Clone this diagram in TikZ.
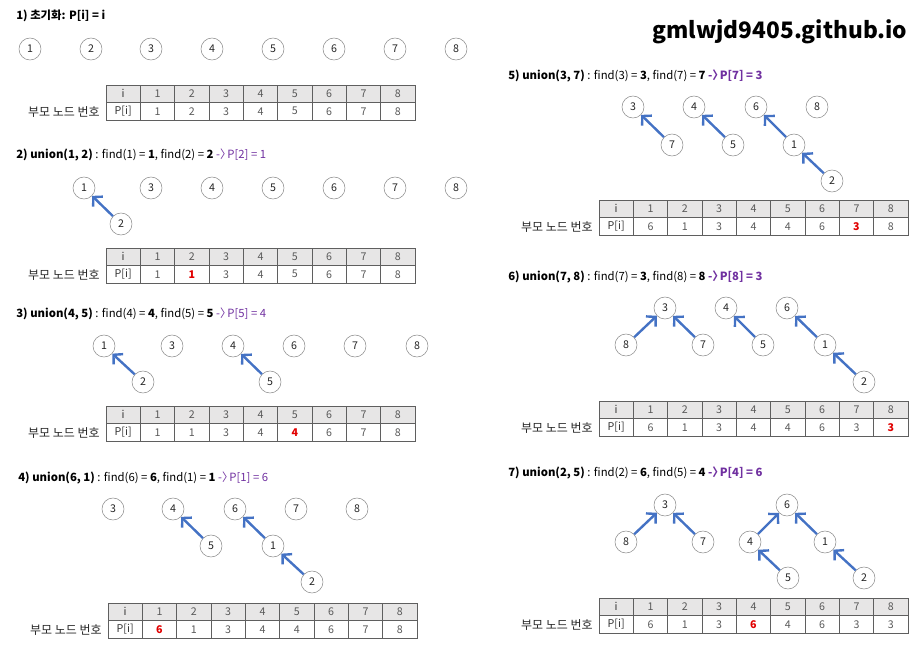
\documentclass[tikz,border=0pt]{standalone}
\usepackage{fontspec}
\setmainfont{Noto Sans CJK KR}
\usepackage{tikz}
\usetikzlibrary{arrows.meta, positioning, calc}
\definecolor{ufblue}   {RGB}{68,  114, 196}
\definecolor{ufpurple} {RGB}{112, 48,  160}
\definecolor{ufred}    {RGB}{225, 0,   0}
\definecolor{ufhead}   {RGB}{231, 230, 230}
\definecolor{ufline}   {RGB}{95,  95,  95}
\definecolor{uftext}   {RGB}{89,  89,  89}

\tikzset{
	unode/.style={circle, draw=black!45, fill=white, minimum size=16.5pt, inner sep=0pt,
		text=black!85, font=\fontsize{8}{9}\selectfont},
	parent/.style={draw=ufblue, line width=1.8pt, -{Straight Barb[length=5pt,width=10.5pt]}},
	steptitle/.style={anchor=west, inner sep=0pt, text=black, font=\fontsize{8.5}{10}\selectfont},
	tabline/.style={draw=ufline, line width=0.6pt},
	cellkey/.style={inner sep=0pt, text=black!80, font=\fontsize{8}{9}\selectfont},
	cellval/.style={inner sep=0pt, text=uftext, font=\fontsize{8}{9}\selectfont},
	cellhot/.style={inner sep=0pt, text=ufred, font=\fontsize{8}{9}\selectfont\bfseries},
	rowlabel/.style={anchor=east, inner sep=0pt, text=black!85, font=\fontsize{9}{10}\selectfont},
	wmark/.style={inner sep=0pt, text=black, font=\fontsize{17}{20}\selectfont\bfseries}
}
\newcommand{\toP}{-〉\kern-0.35em}

% #1 name, #2 left, #3 top, #4 parents, #5 changed column (0 = none)
\newcommand{\parenttable}[5]{%
	\fill[ufhead] (#2,#3) rectangle ({#2+309},{#3+17.5});
	\draw[tabline] (#2,#3) rectangle ({#2+309},{#3+35});
	\draw[tabline] (#2,{#3+17.5}) -- ({#2+309},{#3+17.5});
	\foreach \k in {1,...,8}
		\draw[tabline] ({#2+\k*34.33},#3) -- ({#2+\k*34.33},{#3+35});
	\node[cellkey] (#1hi) at ({#2+17.17},{#3+8.75}) {i};
	\node[cellkey] (#1pi) at ({#2+17.17},{#3+26.25}) {P[i]};
	\foreach \k in {1,...,8}
		\node[cellval] (#1h\k) at ({#2+(\k+0.5)*34.33},{#3+8.75}) {\k};
	\foreach \v [count=\k] in {#4} {
		\ifnum\k=#5\relax
			\node[cellhot] (#1p\k) at ({#2+(\k+0.5)*34.33},{#3+26.25}) {\v};
		\else
			\node[cellval] (#1p\k) at ({#2+(\k+0.5)*34.33},{#3+26.25}) {\v};
		\fi
	}
	\node[rowlabel] (#1lab) at ({#2-6},{#3+27}) {부모 노드 번호};
}

\begin{document}
\begin{tikzpicture}[x=0.75pt,y=-0.75pt]
	\useasboundingbox (0,0) rectangle (921,647);

	\node[wmark] (site) at (780,32) {gmlwjd9405.github.io};

	% 1) init
	\node[steptitle] (t1) at (16,16) {\bfseries 1) 초기화: P[i] = i};
	\foreach \k/\xx in {1/30,2/91,3/151,4/212,5/273,6/334,7/395,8/456}
		\node[unode] (a\k) at (\xx,49) {\k};
	\parenttable{a}{106}{85}{1,2,3,4,5,6,7,8}{0}

	% 2) union(1,2)
	\node[steptitle] (t2) at (16,155) {\textbf{2) union(1, 2)} : find(1) = \textbf{1}, find(2) = \textbf{2} \textcolor{ufpurple}{\toP P[2] = 1}};
	\foreach \k/\xx in {1/84,3/151,4/212,5/273,6/334,7/395,8/456}
		\node[unode] (b\k) at (\xx,188) {\k};
	\node[unode] (b2) at (121,224) {2};
	\draw[parent] (b2) -- (b1);
	\parenttable{b}{106}{248}{1,1,3,4,5,6,7,8}{2}

	% 3) union(4,5)
	\node[steptitle] (t3) at (16,314) {\textbf{3) union(4, 5)} : find(4) = \textbf{4}, find(5) = \textbf{5} \textcolor{ufpurple}{\toP P[5] = 4}};
	\foreach \k/\xx in {1/104,3/172,4/233,6/294,7/355,8/417}
		\node[unode] (c\k) at (\xx,346) {\k};
	\node[unode] (c2) at (143,382) {2};
	\node[unode] (c5) at (270,382) {5};
	\draw[parent] (c2) -- (c1);
	\draw[parent] (c5) -- (c4);
	\parenttable{c}{106}{406}{1,1,3,4,4,6,7,8}{5}

	% 4) union(6,1)
	\node[steptitle] (t4) at (18,478) {\textbf{4) union(6, 1)} : find(6) = \textbf{6}, find(1) = \textbf{1} \textcolor{ufpurple}{\toP P[1] = 6}};
	\foreach \k/\xx in {3/113,4/173,6/235,7/296,8/357}
		\node[unode] (d\k) at (\xx,509) {\k};
	\node[unode] (d5) at (211,546) {5};
	\node[unode] (d1) at (273,546) {1};
	\node[unode] (d2) at (312,582) {2};
	\draw[parent] (d5) -- (d4);
	\draw[parent] (d1) -- (d6);
	\draw[parent] (d2) -- (d1);
	\parenttable{d}{108}{603}{6,1,3,4,4,6,7,8}{1}

	% 5) union(3,7)
	\node[steptitle] (t5) at (508,76) {\textbf{5) union(3, 7)} : find(3) = \textbf{3}, find(7) = \textbf{7} \textcolor{ufpurple}{\bfseries \toP P[7] = 3}};
	\foreach \k/\xx in {3/633,4/694,6/756,8/817}
		\node[unode] (e\k) at (\xx,107) {\k};
	\foreach \k/\xx in {7/672,5/733,1/794}
		\node[unode] (e\k) at (\xx,145) {\k};
	\node[unode] (e2) at (832,181) {2};
	\draw[parent] (e7) -- (e3);
	\draw[parent] (e5) -- (e4);
	\draw[parent] (e1) -- (e6);
	\draw[parent] (e2) -- (e1);
	\parenttable{e}{599}{200}{6,1,3,4,4,6,3,8}{7}

	% 6) union(7,8)
	\node[steptitle] (t6) at (508,277) {\textbf{6) union(7, 8)} : find(7) = \textbf{3}, find(8) = \textbf{8} \textcolor{ufpurple}{\bfseries \toP P[8] = 3}};
	\foreach \k/\xx in {3/665,4/726,6/787}
		\node[unode] (f\k) at (\xx,308) {\k};
	\foreach \k/\xx in {8/626,7/703,5/763,1/825}
		\node[unode] (f\k) at (\xx,345) {\k};
	\node[unode] (f2) at (864,382) {2};
	\draw[parent] (f8) -- (f3);
	\draw[parent] (f7) -- (f3);
	\draw[parent] (f5) -- (f4);
	\draw[parent] (f1) -- (f6);
	\draw[parent] (f2) -- (f1);
	\parenttable{f}{599}{401}{6,1,3,4,4,6,3,3}{8}

	% 7) union(2,5)
	\node[steptitle] (t7) at (508,473) {\textbf{7) union(2, 5)} : find(2) = \textbf{6}, find(5) = \textbf{4} \textcolor{ufpurple}{\bfseries \toP P[4] = 6}};
	\foreach \k/\xx in {3/665,6/787}
		\node[unode] (g\k) at (\xx,505) {\k};
	\foreach \k/\xx in {8/626,7/703,4/750,1/825}
		\node[unode] (g\k) at (\xx,542) {\k};
	\node[unode] (g5) at (788,578) {5};
	\node[unode] (g2) at (864,578) {2};
	\draw[parent] (g8) -- (g3);
	\draw[parent] (g7) -- (g3);
	\draw[parent] (g4) -- (g6);
	\draw[parent] (g1) -- (g6);
	\draw[parent] (g5) -- (g4);
	\draw[parent] (g2) -- (g1);
	\parenttable{g}{599}{598}{6,1,3,6,4,6,3,3}{4}
\end{tikzpicture}
\end{document}
